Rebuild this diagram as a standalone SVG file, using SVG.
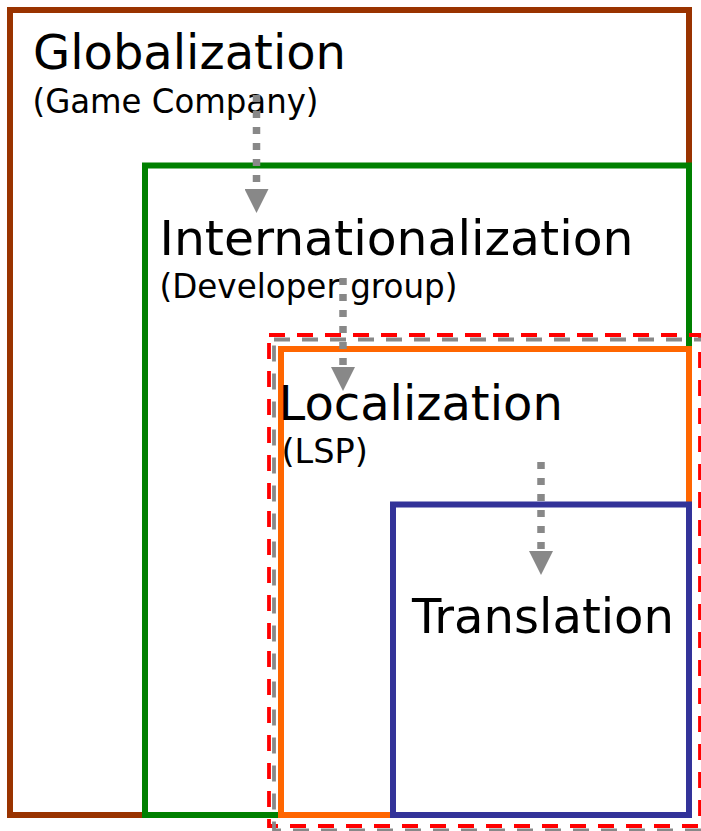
<svg xmlns="http://www.w3.org/2000/svg" width="701" height="831" viewBox="0 0 701 831">
<defs>
<style>
.box{fill:none;stroke-width:6}
.title{font-family:"DejaVu Sans","Liberation Sans",sans-serif;font-size:48px;fill:#000}
.sub{font-family:"DejaVu Sans","Liberation Sans",sans-serif;font-size:33.5px;fill:#000}
.scope{fill:none;stroke-width:3.8;stroke-dasharray:16 12}
.arrow{stroke:#888888;stroke-width:7.5;stroke-dasharray:7 9;fill:none;marker-end:url(#head)}
</style>
<marker id="head" viewBox="0 0 24 24" markerWidth="24" markerHeight="24" markerUnits="userSpaceOnUse" refX="0" refY="12" orient="auto">
<path d="M0,0 L24,12 L0,24 Z" fill="#888888" stroke="none"/>
</marker>
</defs>
<rect width="701" height="831" fill="#ffffff"/>
<g id="globalization">
<rect class="box" x="10" y="10" width="679" height="805" stroke="#993300"/>
<text class="title" x="33" y="68.5">Globalization</text>
<text class="sub" x="32.5" y="113" textLength="286" lengthAdjust="spacingAndGlyphs">(Game Company)</text>
</g>
<g id="internationalization">
<rect class="box" x="145" y="165.5" width="544" height="649.5" stroke="#008000"/>
<text class="title" x="159.5" y="255" textLength="474" lengthAdjust="spacingAndGlyphs">Internationalization</text>
<text class="sub" x="159.5" y="297.5" textLength="298" lengthAdjust="spacingAndGlyphs">(Developer group)</text>
</g>
<g id="localization">
<rect class="box" x="281" y="349" width="408" height="466" stroke="#ff6600"/>
<text class="title" x="278.5" y="419.5">Localization</text>
<text class="sub" x="281.5" y="462.5">(LSP)</text>
</g>
<g id="translation">
<rect class="box" x="393" y="504.5" width="296" height="310.5" stroke="#333399"/>
<text class="title" x="412" y="632.5" textLength="262" lengthAdjust="spacingAndGlyphs">Translation</text>
</g>
<g id="scope-red">
<rect class="scope" x="269" y="335" width="431" height="491" stroke="#ff0000"/>
</g>
<g id="scope-gray">
<rect class="scope" x="274" y="339.5" width="430" height="491" stroke="#888888"/>
</g>
<g id="connectors">
<line class="arrow" x1="256.5" y1="95" x2="256.5" y2="189"/>
<line class="arrow" x1="343" y1="278" x2="343" y2="367"/>
<line class="arrow" x1="541" y1="462" x2="541" y2="551"/>
</g>
</svg>
